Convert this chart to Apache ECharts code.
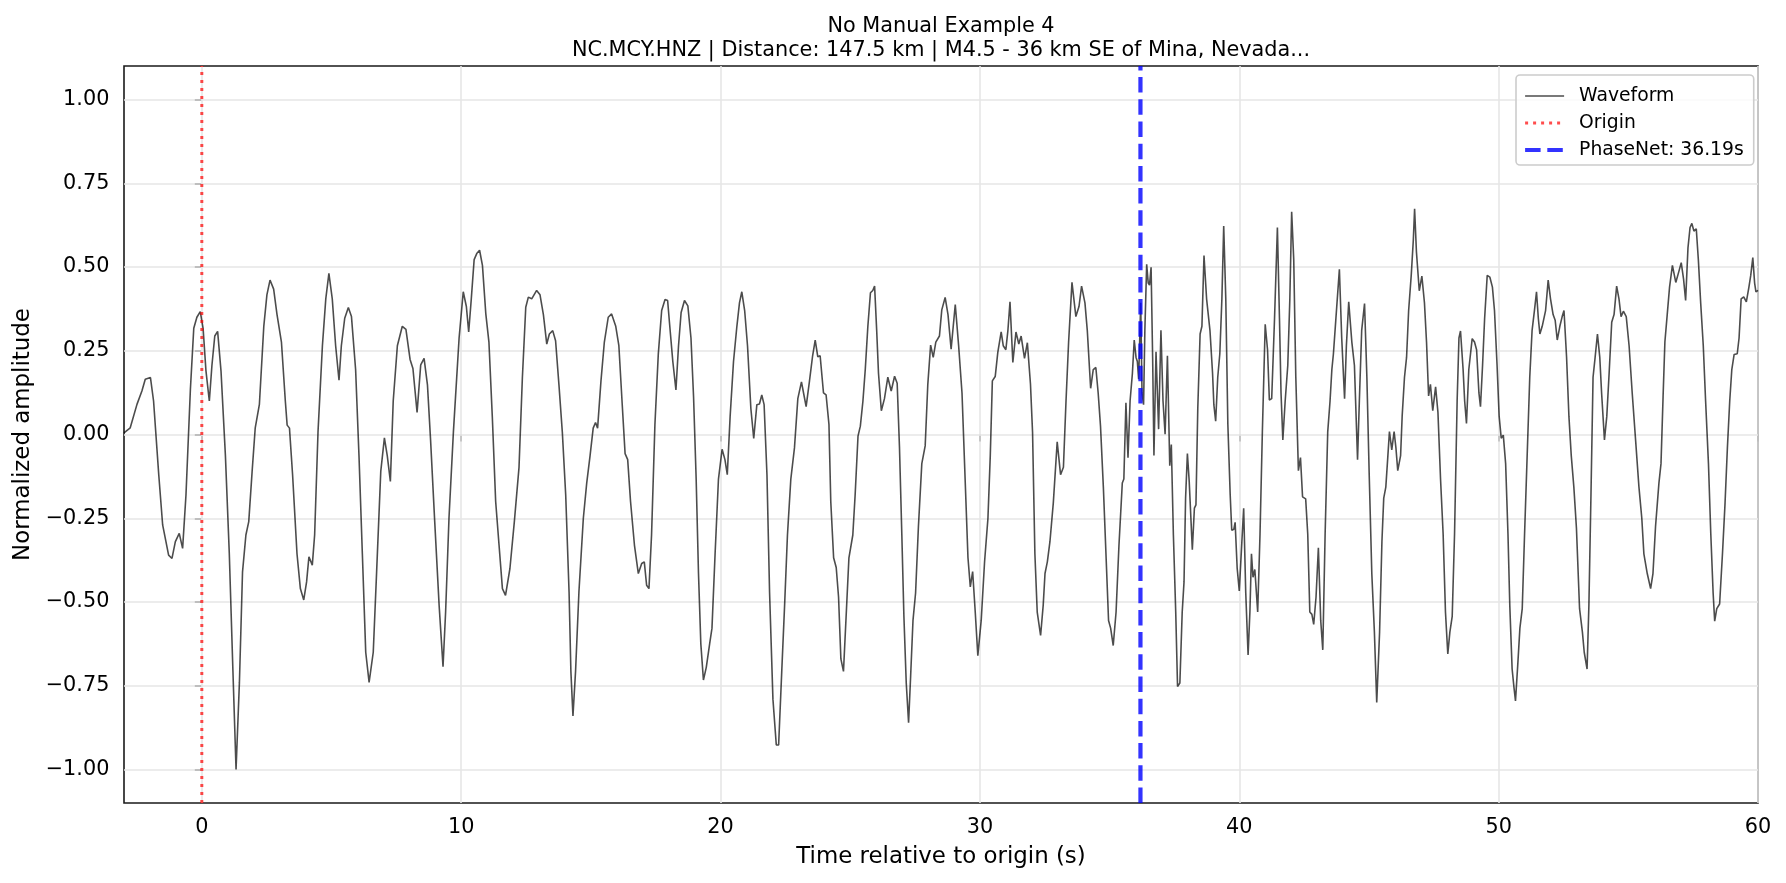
<!DOCTYPE html>
<html>
<head>
<meta charset="utf-8">
<script src="https://cdn.jsdelivr.net/npm/echarts@6/dist/echarts.min.js"></script>
<style>
  html, body { margin: 0; padding: 0; background: #fff; }
  #chart { width: 1786px; height: 883px; }
</style>
</head>
<body>
<div id="chart"></div>
<script>
// waveform samples (time in s, normalized amplitude)
const waveTime = [
  -3.0, -2.76, -2.5, -2.31, -2.18, -1.98, -1.86, -1.66, -1.51, -1.28, -1.15, -1.02, -0.87, -0.74, -0.61, -0.44, -0.31, -0.19, -0.06, 0.05,
  0.16, 0.29, 0.39, 0.50, 0.61, 0.74, 0.91, 1.06, 1.20, 1.32, 1.45, 1.57, 1.70, 1.81, 1.94, 2.06, 2.22, 2.39, 2.51, 2.63,
  2.77, 2.90, 3.07, 3.22, 3.29, 3.38, 3.50, 3.67, 3.80, 3.93, 4.04, 4.13, 4.26, 4.35, 4.48, 4.65, 4.78, 4.90, 5.03, 5.16,
  5.29, 5.38, 5.51, 5.65, 5.77, 5.93, 6.06, 6.19, 6.32, 6.45, 6.61, 6.74, 6.90, 7.04, 7.15, 7.27, 7.38, 7.54, 7.73, 7.87,
  8.03, 8.14, 8.30, 8.44, 8.57, 8.70, 8.82, 8.98, 9.15, 9.30, 9.40, 9.53, 9.70, 9.92, 10.08, 10.20, 10.29, 10.39, 10.50, 10.60,
  10.71, 10.82, 10.95, 11.07, 11.20, 11.33, 11.46, 11.59, 11.71, 11.88, 12.05, 12.23, 12.36, 12.49, 12.59, 12.72, 12.91, 13.04, 13.17, 13.30,
  13.40, 13.53, 13.64, 13.77, 13.90, 14.03, 14.16, 14.23, 14.31, 14.41, 14.54, 14.71, 14.84, 14.97, 15.09, 15.18, 15.26, 15.39, 15.52, 15.67,
  15.80, 15.96, 16.08, 16.21, 16.32, 16.42, 16.53, 16.68, 16.83, 16.96, 17.06, 17.15, 17.24, 17.34, 17.47, 17.60, 17.73, 17.86, 17.96, 18.03,
  18.16, 18.28, 18.38, 18.48, 18.61, 18.74, 18.86, 18.96, 19.06, 19.15, 19.24, 19.34, 19.45, 19.58, 19.67, 19.79, 19.92, 20.06, 20.17, 20.26,
  20.37, 20.50, 20.63, 20.73, 20.82, 20.93, 21.04, 21.17, 21.28, 21.40, 21.50, 21.59, 21.68, 21.79, 21.89, 22.02, 22.15, 22.24, 22.36, 22.47,
  22.58, 22.71, 22.85, 22.98, 23.12, 23.23, 23.30, 23.43, 23.55, 23.65, 23.75, 23.84, 23.97, 24.07, 24.18, 24.25, 24.36, 24.46, 24.55, 24.64,
  24.74, 24.85, 24.95, 25.10, 25.19, 25.30, 25.39, 25.49, 25.58, 25.68, 25.78, 25.87, 25.94, 26.02, 26.09, 26.20, 26.32, 26.45, 26.58, 26.71,
  26.81, 26.90, 26.99, 27.07, 27.16, 27.25, 27.33, 27.42, 27.52, 27.63, 27.76, 27.89, 27.99, 28.10, 28.20, 28.30, 28.44, 28.53, 28.66, 28.77,
  28.89, 29.05, 29.18, 29.31, 29.43, 29.54, 29.63, 29.72, 29.82, 29.92, 30.05, 30.18, 30.31, 30.40, 30.48, 30.59, 30.69, 30.82, 30.90, 31.00,
  31.08, 31.16, 31.27, 31.39, 31.50, 31.59, 31.72, 31.83, 31.95, 32.03, 32.12, 32.21, 32.34, 32.44, 32.51, 32.60, 32.70, 32.83, 32.98, 33.11,
  33.22, 33.32, 33.42, 33.55, 33.70, 33.82, 33.92, 34.05, 34.14, 34.27, 34.37, 34.47, 34.56, 34.65, 34.76, 34.86, 34.96, 35.04, 35.14, 35.25,
  35.36, 35.49, 35.55, 35.63, 35.71, 35.79, 35.88, 35.95, 36.02, 36.07, 36.12, 36.20, 36.25, 36.31, 36.36, 36.43, 36.49, 36.54, 36.60, 36.66,
  36.71, 36.79, 36.89, 36.98, 37.06, 37.14, 37.23, 37.32, 37.38, 37.46, 37.55, 37.62, 37.71, 37.80, 37.87, 37.93, 38.00, 38.07, 38.19, 38.27,
  38.33, 38.40, 38.49, 38.56, 38.64, 38.74, 38.87, 38.97, 39.02, 39.09, 39.17, 39.25, 39.33, 39.40, 39.48, 39.56, 39.65, 39.71, 39.79, 39.84,
  39.92, 40.00, 40.10, 40.17, 40.25, 40.34, 40.41, 40.47, 40.53, 40.60, 40.65, 40.71, 40.80, 40.89, 41.00, 41.09, 41.16, 41.25, 41.36, 41.47,
  41.55, 41.61, 41.68, 41.77, 41.87, 41.95, 42.02, 42.10, 42.18, 42.28, 42.36, 42.44, 42.56, 42.64, 42.72, 42.80, 42.87, 42.96, 43.05, 43.14,
  43.22, 43.31, 43.41, 43.50, 43.57, 43.63, 43.72, 43.86, 43.95, 44.06, 44.13, 44.22, 44.34, 44.44, 44.56, 44.63, 44.72, 44.83, 44.92, 45.01,
  45.11, 45.21, 45.30, 45.41, 45.50, 45.57, 45.65, 45.73, 45.79, 45.88, 45.97, 46.04, 46.11, 46.22, 46.28, 46.37, 46.45, 46.53, 46.63, 46.71,
  46.76, 46.83, 46.94, 47.04, 47.14, 47.22, 47.30, 47.37, 47.46, 47.57, 47.66, 47.76, 47.86, 47.95, 48.04, 48.12, 48.21, 48.30, 48.40, 48.47,
  48.53, 48.63, 48.69, 48.76, 48.85, 48.98, 49.07, 49.15, 49.24, 49.30, 49.38, 49.46, 49.56, 49.66, 49.76, 49.84, 49.94, 50.02, 50.10, 50.18,
  50.27, 50.36, 50.43, 50.52, 50.59, 50.65, 50.74, 50.82, 50.91, 51.00, 51.10, 51.20, 51.29, 51.38, 51.46, 51.53, 51.59, 51.68, 51.81, 51.91,
  52.00, 52.10, 52.18, 52.26, 52.36, 52.45, 52.52, 52.62, 52.71, 52.80, 52.90, 53.00, 53.12, 53.23, 53.30, 53.41, 53.48, 53.56, 53.64, 53.72,
  53.81, 53.90, 53.97, 54.08, 54.17, 54.26, 54.36, 54.45, 54.55, 54.64, 54.72, 54.81, 54.92, 55.03, 55.15, 55.28, 55.41, 55.52, 55.60, 55.73,
  55.86, 55.95, 56.05, 56.18, 56.26, 56.34, 56.41, 56.50, 56.59, 56.70, 56.76, 56.83, 56.89, 56.95, 57.04, 57.13, 57.21, 57.30, 57.38, 57.45,
  57.53, 57.62, 57.70, 57.79, 57.89, 57.98, 58.09, 58.18, 58.27, 58.33, 58.41, 58.52, 58.63, 58.73, 58.82, 58.91, 58.99, 59.08, 59.20, 59.27,
  59.35, 59.45, 59.55, 59.65, 59.72, 59.80, 59.87, 59.92, 60.0
];
const waveAmp = [
  0.005, 0.02, 0.09, 0.13, 0.165, 0.17, 0.10, -0.12, -0.27, -0.36, -0.37, -0.32, -0.295, -0.34, -0.18, 0.135, 0.317, 0.35, 0.367, 0.317,
  0.19, 0.10, 0.206, 0.294, 0.308, 0.19, -0.063, -0.356, -0.707, -1.0, -0.74, -0.41, -0.30, -0.26, -0.11, 0.02, 0.09, 0.323, 0.417, 0.461,
  0.434, 0.358, 0.276, 0.10, 0.028, 0.019, -0.12, -0.356, -0.46, -0.494, -0.44, -0.365, -0.39, -0.30, 0.007, 0.265, 0.405, 0.481, 0.405, 0.265,
  0.162, 0.265, 0.347, 0.379, 0.352, 0.194, -0.063, -0.356, -0.65, -0.74, -0.65, -0.41, -0.11, -0.01, -0.063, -0.14, 0.10, 0.265, 0.323, 0.314,
  0.224, 0.197, 0.066, 0.208, 0.227, 0.148, -0.016, -0.26, -0.51, -0.693, -0.53, -0.25, 0.007, 0.288, 0.426, 0.382, 0.306, 0.405, 0.522, 0.54,
  0.55, 0.505, 0.36, 0.276, 0.054, -0.20, -0.33, -0.46, -0.48, -0.40, -0.26, -0.098, 0.17, 0.38, 0.41, 0.405, 0.43, 0.417, 0.358, 0.27,
  0.30, 0.31, 0.28, 0.148, 0.007, -0.18, -0.47, -0.707, -0.84, -0.707, -0.47, -0.25, -0.145, -0.063, 0.019, 0.036, 0.019, 0.16, 0.276, 0.35,
  0.36, 0.323, 0.265, 0.089, -0.057, -0.075, -0.20, -0.33, -0.415, -0.385, -0.38, -0.45, -0.46, -0.30, 0.03, 0.24, 0.37, 0.403, 0.40, 0.335,
  0.218, 0.133, 0.265, 0.364, 0.40, 0.384, 0.288, 0.112, -0.133, -0.415, -0.625, -0.733, -0.695, -0.625, -0.578, -0.356, -0.133, -0.044, -0.075, -0.12,
  0.054, 0.218, 0.323, 0.393, 0.426, 0.37, 0.265, 0.077, -0.012, 0.089, 0.091, 0.118, 0.089, -0.12, -0.47, -0.79, -0.927, -0.927, -0.707, -0.51,
  -0.30, -0.133, -0.04, 0.107, 0.157, 0.112, 0.083, 0.16, 0.235, 0.282, 0.232, 0.235, 0.124, 0.118, 0.03, -0.20, -0.368, -0.397, -0.485, -0.67,
  -0.707, -0.53, -0.368, -0.30, -0.18, -0.005, 0.025, 0.10, 0.194, 0.323, 0.423, 0.43, 0.443, 0.311, 0.183, 0.071, 0.107, 0.171, 0.13, 0.174,
  0.153, -0.04, -0.30, -0.543, -0.742, -0.86, -0.72, -0.555, -0.473, -0.274, -0.087, -0.034, 0.148, 0.267, 0.23, 0.276, 0.294, 0.372, 0.409, 0.358,
  0.255, 0.388, 0.265, 0.124, -0.133, -0.368, -0.455, -0.409, -0.53, -0.66, -0.555, -0.38, -0.25, -0.063, 0.16, 0.173, 0.245, 0.306, 0.265, 0.253,
  0.311, 0.396, 0.215, 0.306, 0.27, 0.294, 0.227, 0.274, 0.15, 0.007, -0.356, -0.53, -0.60, -0.51, -0.415, -0.38, -0.32, -0.204, -0.022, -0.12,
  -0.098, 0.10, 0.276, 0.454, 0.352, 0.382, 0.443, 0.393, 0.311, 0.138, 0.194, 0.20, 0.124, 0.025, -0.157, -0.356, -0.555, -0.578, -0.63, -0.53,
  -0.333, -0.145, -0.133, 0.095, -0.069, 0.10, 0.183, 0.282, 0.23, 0.218, 0.165, 0.393, 0.124, 0.089, 0.311, 0.508, 0.452, 0.446, 0.499, 0.23,
  -0.063, 0.247, 0.016, 0.311, 0.10, 0.001, 0.235, -0.093, -0.03, -0.30, -0.53, -0.752, -0.742, -0.53, -0.44, -0.19, -0.057, -0.14, -0.344, -0.22,
  -0.21, 0.077, 0.30, 0.323, 0.534, 0.405, 0.311, 0.183, 0.089, 0.04, 0.171, 0.241, 0.405, 0.622, 0.405, 0.03, -0.18, -0.286, -0.283, -0.262,
  -0.40, -0.467, -0.32, -0.22, -0.473, -0.658, -0.53, -0.356, -0.426, -0.403, -0.46, -0.53, -0.297, 0.007, 0.329, 0.253, 0.103, 0.107, 0.347, 0.618,
  0.347, 0.124, -0.016, 0.10, 0.206, 0.405, 0.665, 0.522, 0.171, -0.108, -0.069, -0.186, -0.192, -0.297, -0.53, -0.537, -0.567, -0.485, -0.338, -0.555,
  -0.643, -0.297, 0.007, 0.10, 0.194, 0.241, 0.34, 0.493, 0.288, 0.107, 0.265, 0.396, 0.276, 0.206, -0.075, 0.10, 0.311, 0.391, 0.171, -0.12,
  -0.415, -0.59, -0.80, -0.59, -0.32, -0.19, -0.157, -0.063, 0.009, -0.046, 0.009, -0.04, -0.108, -0.063, 0.054, 0.171, 0.23, 0.37, 0.475, 0.58,
  0.674, 0.546, 0.429, 0.473, 0.393, 0.276, 0.115, 0.15, 0.071, 0.142, 0.066, -0.133, -0.297, -0.53, -0.655, -0.59, -0.543, -0.297, 0.10, 0.288,
  0.309, 0.194, 0.10, 0.033, 0.194, 0.286, 0.276, 0.253, 0.124, 0.083, 0.206, 0.347, 0.475, 0.47, 0.44, 0.37, 0.206, 0.054, -0.011, -0.002,
  -0.087, -0.297, -0.51, -0.70, -0.754, -0.795, -0.684, -0.578, -0.52, -0.297, -0.063, 0.171, 0.311, 0.37, 0.426, 0.347, 0.30, 0.323, 0.37, 0.461,
  0.405, 0.358, 0.341, 0.282, 0.323, 0.352, 0.37, 0.23, 0.054, -0.063, -0.157, -0.28, -0.52, -0.59, -0.65, -0.70, -0.51, -0.18, 0.171, 0.23,
  0.30, 0.23, 0.124, -0.016, 0.054, 0.183, 0.335, 0.358, 0.443, 0.405, 0.352, 0.368, 0.352, 0.265, 0.124, -0.016, -0.157, -0.25, -0.356, -0.415,
  -0.46, -0.415, -0.274, -0.145, -0.087, 0.112, 0.276, 0.358, 0.44, 0.505, 0.505, 0.454, 0.452, 0.487, 0.513, 0.464, 0.40, 0.557, 0.618, 0.63,
  0.607, 0.614, 0.522, 0.393, 0.265, 0.10, -0.087, -0.297, -0.473, -0.557, -0.52, -0.506, -0.356, -0.204, -0.04, 0.10, 0.194, 0.239, 0.241, 0.288,
  0.405, 0.411, 0.396, 0.44, 0.475, 0.528, 0.452, 0.426, 0.43
];

const originTime = 0;
const pickTime = 36.19;

const xTicks = [0, 10, 20, 30, 40, 50, 60];
const yTicks = [-1.0, -0.75, -0.5, -0.25, 0.0, 0.25, 0.5, 0.75, 1.0];
const xRange = [-3, 60];
const yRange = [-1.1, 1.1];

const titleLine1 = "No Manual Example 4";
const titleLine2 = "NC.MCY.HNZ | Distance: 147.5 km | M4.5 - 36 km SE of Mina, Nevada...";

const FONT = "DejaVu Sans";

let waveData = waveTime.map((t, i) => [t, waveAmp[i]]);
let pickName = "PhaseNet: " + pickTime.toFixed(2) + "s";

function fmtY(v) {
    let s = Math.abs(v).toFixed(2);
    return v < 0 ? "\u2212" + s : s;
}

let gridLines = [];
xTicks.forEach(t => gridLines.push({ xAxis: t }));
yTicks.forEach(v => gridLines.push({ yAxis: v }));

let chart = echarts.init(document.getElementById("chart"), null, { renderer: "canvas" });

let option = {
    animation: false,
    backgroundColor: "#ffffff",
    textStyle: { fontFamily: FONT },
    graphic: [
        {
            type: "text", x: 941, y: 26.5, z: 10,
            style: { text: titleLine1, font: "20.8px '" + FONT + "'", fill: "#000", align: "center", verticalAlign: "middle" }
        },
        {
            type: "text", x: 941, y: 51, z: 10,
            style: { text: titleLine2, font: "20.8px '" + FONT + "'", fill: "#000", align: "center", verticalAlign: "middle" }
        }
    ],
    grid: {
        left: 124, right: 28, top: 66, bottom: 80,
        show: true,
        borderColor: "#1a1a1a",
        borderWidth: 1.6,
        backgroundColor: "transparent",
        containLabel: false
    },
    legend: {
        left: 1516,
        top: 75,
        orient: "vertical",
        padding: [11, 10, 5, 7],
        itemWidth: 39,
        itemHeight: 20,
        itemGap: 7,
        backgroundColor: "rgba(255,255,255,0.8)",
        borderColor: "#cccccc",
        borderWidth: 1.6,
        borderRadius: 4,
        itemStyle: { opacity: 0 },
        textStyle: { fontFamily: FONT, fontSize: 18.75, lineHeight: 20, color: "#000", padding: [0, 0, 0, 10] },
        data: [
            { name: "Waveform", lineStyle: { width: 1.6 } },
            { name: "Origin", lineStyle: { width: 3 } },
            { name: pickName, lineStyle: { width: 4.2 } }
        ]
    },
    xAxis: {
        type: "value",
        min: xRange[0],
        max: xRange[1],
        axisLine: { show: false },
        axisTick: {
            show: true, inside: false, length: 7,
            customValues: xTicks,
            lineStyle: { color: "#1a1a1a", width: 1.6 }
        },
        axisLabel: {
            customValues: xTicks,
            margin: 14.6,
            fontFamily: FONT, fontSize: 20.8, color: "#000"
        },
        splitLine: { show: false },
        name: "Time relative to origin (s)",
        nameLocation: "middle",
        nameGap: 43,
        nameTextStyle: { fontFamily: FONT, fontSize: 22.9, color: "#000" }
    },
    yAxis: {
        type: "value",
        min: yRange[0],
        max: yRange[1],
        axisLine: { show: false },
        axisTick: {
            show: true, inside: false, length: 7,
            customValues: yTicks,
            lineStyle: { color: "#1a1a1a", width: 1.6 }
        },
        axisLabel: {
            customValues: yTicks,
            margin: 14.6,
            formatter: fmtY,
            fontFamily: FONT, fontSize: 20.8, color: "#000"
        },
        splitLine: { show: false },
        name: "Normalized amplitude",
        nameLocation: "middle",
        nameGap: 83,
        nameTextStyle: { fontFamily: FONT, fontSize: 22.9, color: "#000" }
    },
    series: [
        {
            // grid lines at the tick positions, kept under the traces
            name: "grid",
            type: "line",
            data: [],
            z: 1,
            silent: true,
            markLine: {
                z: 1,
                silent: true,
                symbol: ["none", "none"],
                label: { show: false },
                lineStyle: { color: "#e6e6e6", width: 1.6, type: "solid" },
                emphasis: { disabled: true },
                data: gridLines
            }
        },
        {
            name: "Waveform",
            type: "line",
            data: waveData,
            z: 3,
            symbol: "none",
            showSymbol: false,
            lineStyle: { color: "rgba(0,0,0,0.7)", width: 1.6 },
            itemStyle: { color: "rgba(0,0,0,0.7)" },
            clip: true
        },
        {
            name: "Origin",
            type: "line",
            data: [[originTime, yRange[0]], [originTime, yRange[1]]],
            z: 4,
            symbol: "none",
            lineStyle: { color: "rgba(255,0,0,0.7)", width: 3, type: [3, 5] },
            itemStyle: { color: "rgba(255,0,0,0.7)" }
        },
        {
            name: pickName,
            type: "line",
            data: [[pickTime, yRange[0]], [pickTime, yRange[1]]],
            z: 5,
            symbol: "none",
            lineStyle: { color: "rgba(0,0,255,0.8)", width: 4.2, type: [15.5, 6.7] },
            itemStyle: { color: "rgba(0,0,255,0.8)" }
        }
    ]
};

chart.setOption(option);
</script>
</body>
</html>
